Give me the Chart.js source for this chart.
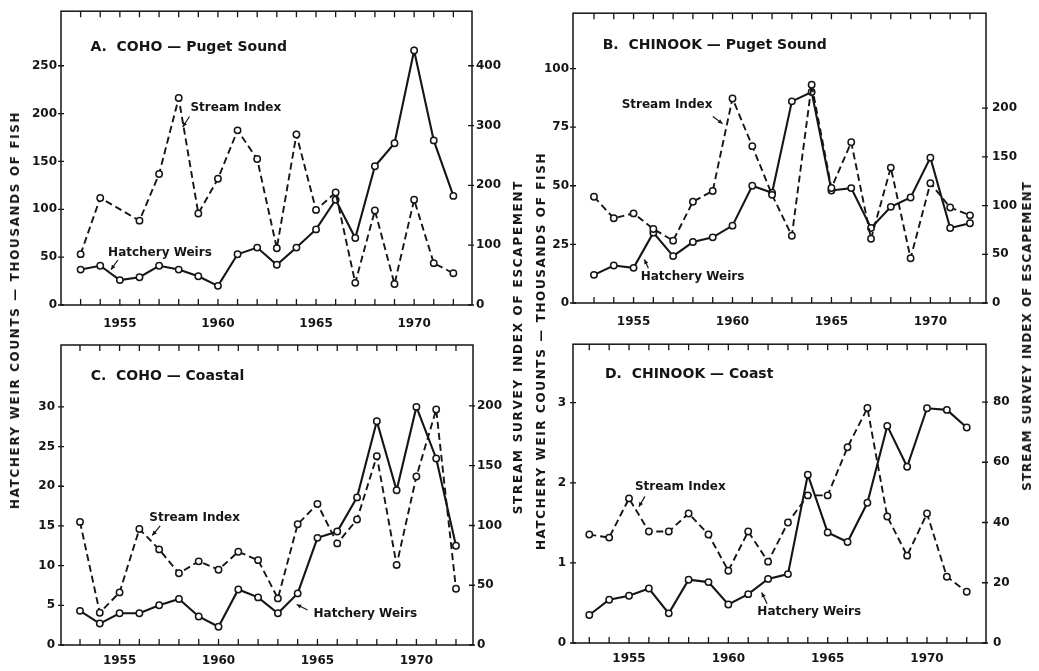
<!DOCTYPE html>
<html>
<head>
<meta charset="utf-8">
<script src="https://cdn.jsdelivr.net/npm/chart.js@4.4.1/dist/chart.umd.min.js"></script>
<style>
  body { margin: 0; background: #fff; width: 1039px; height: 671px; position: relative; overflow: hidden; }
  canvas { position: absolute; }
  .vt { position: absolute; white-space: nowrap; font: bold 12px "DejaVu Sans", sans-serif; color: #151515;
        transform: translate(-50%, -50%) rotate(-90deg); z-index: 2; }
</style>
</head>
<body>
<canvas id="pA" width="519" height="335" style="left:0;top:0"></canvas>
<canvas id="pB" width="520" height="335" style="left:519px;top:0"></canvas>
<canvas id="pC" width="519" height="341" style="left:0;top:330px"></canvas>
<canvas id="pD" width="520" height="341" style="left:519px;top:330px"></canvas>

<div class="vt" data-w="398" style="left:15px;top:310px">HATCHERY WEIR COUNTS — THOUSANDS OF FISH</div>
<div class="vt" data-w="335" style="left:518px;top:347px">STREAM SURVEY INDEX OF ESCAPEMENT</div>
<div class="vt" data-w="398" style="left:541px;top:351px">HATCHERY WEIR COUNTS — THOUSANDS OF FISH</div>
<div class="vt" data-w="310" style="left:1027px;top:336px">STREAM SURVEY INDEX OF ESCAPEMENT</div>

<script>
// ---- données ----
const years = [1953, 1954, 1955, 1956, 1957, 1958, 1959, 1960, 1961, 1962,
               1963, 1964, 1965, 1966, 1967, 1968, 1969, 1970, 1971, 1972];
const yearLabels = [1955, 1960, 1965, 1970];

// A. Coho - Puget Sound
const cohoPugetWeirs  = [37, 41, 26, 29, 41, 37, 30, 20, 53, 60, 42, 60, 79, 110, 70, 145, 169, 266, 172, 114];
const cohoPugetStream = [85, 179, null, 141, 219, 346, 153, 211, 292, 244, 95, 285, 159, 188, 37, 158, 35, 176, 70, 53];
const cohoPugetLeftTicks  = [0, 50, 100, 150, 200, 250];
const cohoPugetRightTicks = [0, 100, 200, 300, 400];

// B. Chinook - Puget Sound
const chinookPugetWeirs  = [12, 16, 15, 30, 20, 26, 28, 33, 50, 47, 86, 90, 48, 49, 32, 41, 45, 62, 32, 34];
const chinookPugetStream = [109, 87, 92, 76, 64, 104, 115, 210, 161, 111, 69, 224, 118, 165, 66, 139, 46, 123, 98, 90];
const chinookPugetLeftTicks  = [0, 25, 50, 75, 100];
const chinookPugetRightTicks = [0, 50, 100, 150, 200];

// C. Coho - Coastal
const cohoCoastWeirs  = [4.3, 2.7, 4.0, 4.0, 5.0, 5.8, 3.6, 2.3, 7.0, 6.0, 4.0, 6.5, 13.5, 14.3, 18.6, 28.2, 19.5, 30.0, 23.5, 12.5];
const cohoCoastStream = [103, 27, 44, 97, 80, 60, 70, 63, 78, 71, 39, 101, 118, 85, 105, 158, 67, 141, 197, 47];
const cohoCoastLeftTicks  = [0, 5, 10, 15, 20, 25, 30];
const cohoCoastRightTicks = [0, 50, 100, 150, 200];

// D. Chinook - Coast
const chinookCoastWeirs  = [0.35, 0.54, 0.59, 0.68, 0.37, 0.79, 0.76, 0.48, 0.61, 0.80, 0.86, 2.10, 1.38, 1.26, 1.75, 2.71, 2.20, 2.93, 2.91, 2.69];
const chinookCoastStream = [36, 35, 48, 37, 37, 43, 36, 24, 37, 27, 40, 49, 49, 65, 78, 42, 29, 43, 22, 17];
const chinookCoastLeftTicks  = [0, 1, 2, 3];
const chinookCoastRightTicks = [0, 20, 40, 60, 80];

const INK = '#151515';
const FONT = '"DejaVu Sans", sans-serif';

Chart.defaults.font.family = FONT;
Chart.defaults.font.size = 12;
Chart.defaults.font.weight = 'bold';
Chart.defaults.color = INK;

// cadre, graduations vers l'intérieur, titre et étiquettes fléchées
const figPlugin = {
    id: 'fig',
    beforeDatasetsDraw(chart) {
        const { ctx, chartArea: a, scales } = chart;
        ctx.save();
        ctx.strokeStyle = INK;
        ctx.lineWidth = 1.5;
        ctx.strokeRect(a.left, a.top, a.right - a.left, a.bottom - a.top);
        ctx.lineWidth = 1.3;
        ctx.beginPath();
        years.forEach(yr => {
            const px = scales.x.getPixelForValue(yr);
            ctx.moveTo(px, a.bottom); ctx.lineTo(px, a.bottom - 6);
            ctx.moveTo(px, a.top); ctx.lineTo(px, a.top + 6);
        });
        scales.y.ticks.forEach(t => {
            const py = scales.y.getPixelForValue(t.value);
            ctx.moveTo(a.left - 3, py); ctx.lineTo(a.left + 3, py);
        });
        scales.y1.ticks.forEach(t => {
            const py = scales.y1.getPixelForValue(t.value);
            ctx.moveTo(a.right - 4, py); ctx.lineTo(a.right + 2, py);
        });
        ctx.stroke();
        ctx.restore();
    },
    afterDatasetsDraw(chart, args, opts) {
        const { ctx, scales: { x, y } } = chart;
        ctx.save();
        ctx.fillStyle = INK;
        ctx.strokeStyle = INK;
        ctx.textAlign = 'left';
        ctx.textBaseline = 'middle';
        ctx.font = 'bold 14px ' + FONT;
        ctx.fillText(opts.title, x.getPixelForValue(opts.titleAt[0]), y.getPixelForValue(opts.titleAt[1]));
        ctx.font = 'bold 12px ' + FONT;
        opts.notes.forEach(n => {
            ctx.fillText(n.text, x.getPixelForValue(n.at[0]), y.getPixelForValue(n.at[1]));
            const x1 = x.getPixelForValue(n.from[0]), y1 = y.getPixelForValue(n.from[1]);
            const x2 = x.getPixelForValue(n.to[0]), y2 = y.getPixelForValue(n.to[1]);
            ctx.lineWidth = 1.2;
            ctx.beginPath(); ctx.moveTo(x1, y1); ctx.lineTo(x2, y2); ctx.stroke();
            const ang = Math.atan2(y2 - y1, x2 - x1);
            ctx.beginPath();
            ctx.moveTo(x2, y2);
            ctx.lineTo(x2 - 5 * Math.cos(ang - 0.45), y2 - 5 * Math.sin(ang - 0.45));
            ctx.lineTo(x2 - 5 * Math.cos(ang + 0.45), y2 - 5 * Math.sin(ang + 0.45));
            ctx.closePath(); ctx.fill();
        });
        ctx.restore();
    },
};

const serie = (vals) => years.map((yr, i) => ({ x: yr, y: vals[i] }));
const fixTicks = (arr) => (s) => { s.ticks = arr.map(v => ({ value: v })); };

function panneau(id, p) {
    new Chart(document.getElementById(id), {
        type: 'line',
        data: {
            datasets: [
                {
                    label: 'Stream Index', data: serie(p.stream), yAxisID: 'y1',
                    borderColor: INK, borderWidth: 1.9, borderDash: [7, 4], spanGaps: true,
                    pointRadius: 3.2, pointBorderWidth: 1.5, pointBackgroundColor: '#fff', pointBorderColor: INK,
                },
                {
                    label: 'Hatchery Weirs', data: serie(p.weirs), yAxisID: 'y',
                    borderColor: INK, borderWidth: 2.1,
                    pointRadius: 3.2, pointBorderWidth: 1.5, pointBackgroundColor: '#fff', pointBorderColor: INK,
                },
            ],
        },
        options: {
            responsive: false,
            animation: false,
            layout: { padding: { top: p.top, left: 0, right: 0, bottom: 0 } },
            plugins: {
                legend: { display: false },
                tooltip: { enabled: false },
                fig: { title: p.title, titleAt: p.titleAt, notes: p.notes },
            },
            scales: {
                x: {
                    type: 'linear', min: p.xr[0], max: p.xr[1],
                    grid: { display: false, drawTicks: false }, border: { display: false },
                    afterBuildTicks: fixTicks(yearLabels),
                    ticks: { padding: p.xPad, maxRotation: 0, callback: v => String(v) },
                    afterFit: s => { s.height = p.xH; },
                },
                y: {
                    position: 'left', min: 0, max: p.leftMax,
                    grid: { display: false, drawTicks: false }, border: { display: false },
                    afterBuildTicks: fixTicks(p.leftTicks),
                    ticks: { padding: p.lPad, callback: v => String(v) },
                    afterFit: s => { s.width = p.lW; },
                },
                y1: {
                    position: 'right', min: 0, max: p.rightMax,
                    grid: { display: false, drawTicks: false }, border: { display: false },
                    afterBuildTicks: fixTicks(p.rightTicks),
                    ticks: { padding: p.rPad, callback: v => String(v) },
                    afterFit: s => { s.width = p.rW; },
                },
            },
        },
        plugins: [figPlugin],
    });
}

panneau('pA', {
    weirs: cohoPugetWeirs, stream: cohoPugetStream,
    leftTicks: cohoPugetLeftTicks, rightTicks: cohoPugetRightTicks,
    leftMax: 307, rightMax: 491.2, xr: [1952.0, 1972.95],
    top: 10, xH: 30, lW: 61, rW: 47, xPad: 12, lPad: 4, rPad: 4,
    title: 'A.  COHO — Puget Sound', titleAt: [1953.5, 269],
    notes: [
        { text: 'Stream Index', at: [1958.6, 206], from: [1958.55, 197], to: [1958.2, 186] },
        { text: 'Hatchery Weirs', at: [1954.4, 54], from: [1954.9, 47], to: [1954.55, 37] },
    ],
});

panneau('pB', {
    weirs: chinookPugetWeirs, stream: chinookPugetStream,
    leftTicks: chinookPugetLeftTicks, rightTicks: chinookPugetRightTicks,
    leftMax: 123.6, rightMax: 297.5, xr: [1951.94, 1972.81],
    top: 10, xH: 32, lW: 54, rW: 53, xPad: 12, lPad: 4, rPad: 6,
    title: 'B.  CHINOOK — Puget Sound', titleAt: [1953.44, 110],
    notes: [
        { text: 'Stream Index', at: [1954.4, 84.5], from: [1959.0, 79.5], to: [1959.5, 76.5] },
        { text: 'Hatchery Weirs', at: [1955.36, 11.1], from: [1955.75, 14.8], to: [1955.55, 18.5] },
    ],
});

panneau('pC', {
    weirs: cohoCoastWeirs, stream: cohoCoastStream,
    leftTicks: cohoCoastLeftTicks, rightTicks: cohoCoastRightTicks,
    leftMax: 37.8, rightMax: 251, xr: [1952.04, 1972.86],
    top: 15, xH: 26, lW: 61, rW: 46, xPad: 9, lPad: 6, rPad: 4,
    title: 'C.  COHO — Coastal', titleAt: [1953.54, 33.8],
    notes: [
        { text: 'Stream Index', at: [1956.5, 16.0], from: [1957.05, 15.0], to: [1956.65, 13.8] },
        { text: 'Hatchery Weirs', at: [1964.8, 3.9], from: [1964.5, 4.4], to: [1963.95, 5.1] },
    ],
});

panneau('pD', {
    weirs: chinookCoastWeirs, stream: chinookCoastStream,
    leftTicks: chinookCoastLeftTicks, rightTicks: chinookCoastRightTicks,
    leftMax: 3.73, rightMax: 99.2, xr: [1952.18, 1972.97],
    top: 13, xH: 28, lW: 54, rW: 53, xPad: 9, lPad: 7, rPad: 7,
    title: 'D.  CHINOOK — Coast', titleAt: [1953.79, 3.35],
    notes: [
        { text: 'Stream Index', at: [1955.3, 1.95], from: [1955.8, 1.83], to: [1955.5, 1.70] },
        { text: 'Hatchery Weirs', at: [1961.46, 0.39], from: [1961.95, 0.49], to: [1961.68, 0.63] },
    ],
});

// titres d'axes verticaux : espacement ajusté à la longueur voulue
document.querySelectorAll('.vt').forEach(el => {
    const n = el.textContent.length;
    const w = el.getBoundingClientRect().height || el.offsetWidth;
    el.style.letterSpacing = ((+el.dataset.w - el.offsetWidth) / n) + 'px';
});
</script>
</body>
</html>
